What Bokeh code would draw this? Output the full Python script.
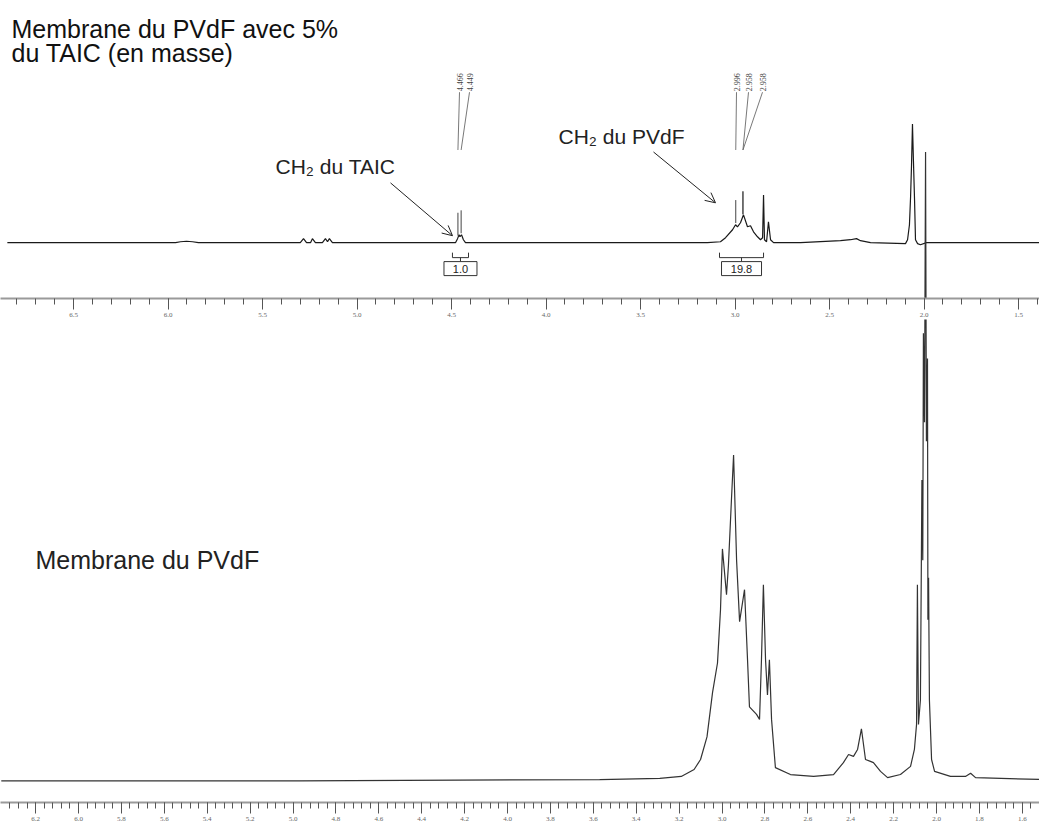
from bokeh.plotting import figure
from bokeh.layouts import column
from bokeh.models import Range1d, FixedTicker, Arrow, OpenHead
from bokeh.core.properties import value
from bokeh.embed import file_html
from bokeh.resources import INLINE
import numpy as np

# ---------------- data ----------------
# Top spectrum: PVdF membrane with 5 % TAIC (ppm, relative intensity)
top_ppm = [6.85, 5.96, 5.934, 5.902, 5.870, 5.839, 5.30, 5.283, 5.267, 5.246, 5.236, 5.220,
           5.183, 5.167, 5.156, 5.146, 5.130, 4.479, 4.468, 4.460, 4.455, 4.447, 4.437, 4.426,
           3.146, 3.077, 3.050, 3.013, 2.997, 2.987, 2.971, 2.955, 2.934, 2.918, 2.902, 2.881,
           2.865, 2.854, 2.849, 2.844, 2.833, 2.823, 2.812, 2.796, 2.653, 2.442, 2.389, 2.357,
           2.336, 2.283, 2.098, 2.087, 2.077, 2.071, 2.066, 2.061, 2.056, 2.050, 2.045, 2.034,
           2.019, 1.987, 1.35]
top_int = [0.0, 0.0, 0.8, 1.2, 0.8, 0.0, 0.0, 3.4, 0.0, 0.0, 3.4, 0.0,
           0.0, 3.4, 0.8, 3.4, 0.0, 0.0, 3.4, 6.7, 5.0, 6.7, 2.5, 0.0,
           0.0, 0.8, 4.2, 10.9, 15.1, 13.4, 16.8, 23.5, 13.4, 14.3, 9.2, 5.0,
           2.5, 4.2, 40.3, 2.5, 0.8, 17.6, 2.5, 0.0, 0.0, 1.7, 2.5, 3.4,
           1.7, 0.0, -0.8, 2.5, 15.1, 38.7, 65.5, 100.0, 69.7, 36.1, 2.5, -0.8,
           -1.7, 0.0, 0.0]

# Bottom spectrum: PVdF membrane (ppm, relative intensity)
bot_ppm = [6.36, 4.97, 3.57, 3.29, 3.19, 3.13, 3.10, 3.07, 3.044, 3.021, 3.007, 2.998,
           2.979, 2.970, 2.956, 2.946, 2.932, 2.918, 2.895, 2.881, 2.872, 2.839, 2.825, 2.816,
           2.807, 2.797, 2.788, 2.779, 2.769, 2.751, 2.681, 2.573, 2.480, 2.434, 2.410, 2.387,
           2.368, 2.350, 2.331, 2.308, 2.294, 2.261, 2.228, 2.168, 2.121, 2.103, 2.093, 2.089,
           2.084, 2.075, 2.068, 2.064, 2.061, 2.056, 2.051, 2.047, 2.042, 2.040, 2.037, 2.033,
           2.023, 2.009, 1.935, 1.865, 1.841, 1.818, 1.50]
bot_int = [-0.2, -0.2, 0.0, 0.2, 0.5, 1.6, 3.2, 6.8, 13.9, 18.6, 27.1, 36.8,
           29.5, 34.2, 44.6, 51.8, 35.0, 25.2, 30.3, 19.1, 11.6, 10.4, 9.6, 19.1,
           31.1, 19.1, 13.5, 19.1, 9.6, 1.9, 0.8, 0.5, 0.8, 2.7, 4.0, 3.7,
           4.8, 8.1, 3.2, 2.9, 2.7, 1.3, 0.3, 0.8, 2.1, 4.8, 8.8, 31.1,
           8.8, 12.7, 47.8, 35.0, 71.2, 57.0, 100.0, 54.0, 67.2, 25.5, 32.2, 12.7,
           3.2, 1.3, 0.5, 0.5, 1.0, 0.3, 0.0]

peak_labels = ["4.466", "4.449", "2.996", "2.958", "2.958"]
peak_ppm = [4.466, 4.449, 2.996, 2.958, 2.958]

integral_start = [4.495, 3.082]
integral_end = [4.410, 2.849]
integral_values = ["1.0", "19.8"]

top_major_ticks = [6.5, 6.0, 5.5, 5.0, 4.5, 4.0, 3.5, 3.0, 2.5, 2.0, 1.5]
top_tick_labels = ["6.5", "6.0", "5.5", "5.0", "4.5", "4.0", "3.5", "3.0", "2.5", "2.0", "1.5"]
bot_major_ticks = [6.2, 6.0, 5.8, 5.6, 5.4, 5.2, 5.0, 4.8, 4.6, 4.4, 4.2, 4.0, 3.8, 3.6,
                   3.4, 3.2, 3.0, 2.8, 2.6, 2.4, 2.2, 2.0, 1.8, 1.6]
bot_tick_labels = ["6.2", "6.0", "5.8", "5.6", "5.4", "5.2", "5.0", "4.8", "4.6", "4.4",
                   "4.2", "4.0", "3.8", "3.6", "3.4", "3.2", "3.0", "2.8", "2.6", "2.4",
                   "2.2", "2.0", "1.8", "1.6"]

# ---------------- layout geometry (page pixels, page origin at 0,0) ----------------
W = 1039
AXIS_H = 20            # height Bokeh gives to the x axis area
TOP_FRAME_BOTTOM = 299
BOT_FRAME_BOTTOM = 803
TOP_H = TOP_FRAME_BOTTOM + AXIS_H
BOT_H = BOT_FRAME_BOTTOM + AXIS_H - TOP_H
FONT = value("Liberation Sans")


def tx(px):  # page x -> top ppm
    return 2.0 + (923.5 - px) / 189.0


def ty(py):  # page y -> top intensity
    return (243.0 - py) / 1.19


def bx(px):  # page x -> bottom ppm
    return 2.0 + (936.0 - px) / 214.5


def by(py):  # page y -> bottom intensity
    return (780.0 - py) / 6.28


def style_axis(p, major, labels, minor):
    ax = p.xaxis[0]
    ax.ticker = FixedTicker(ticks=major, minor_ticks=minor)
    ax.major_label_overrides = {t: l for t, l in zip(major, labels)}
    ax.axis_line_color = "#9a9a9a"
    ax.axis_line_width = 2
    ax.major_tick_line_color = "#555555"
    ax.minor_tick_line_color = "#555555"
    ax.major_tick_out = 11
    ax.major_tick_in = 0
    ax.minor_tick_out = 6
    ax.minor_tick_in = 0
    ax.major_label_standoff = 3
    ax.major_label_text_font = "Liberation Serif"
    ax.major_label_text_font_size = "7px"
    ax.major_label_text_color = "#666666"


# ---------------- top figure ----------------
top = figure(width=W, height=TOP_H, output_backend="svg", toolbar_location=None,
             x_range=Range1d(tx(0), tx(W)), y_range=Range1d(ty(TOP_FRAME_BOTTOM), ty(0)),
             y_axis_location=None, min_border=0, outline_line_color=None)
top.xgrid.visible = False
top.ygrid.visible = False
top.extra_x_ranges = {"bot": Range1d(bx(0), bx(W))}
top.extra_y_ranges = {"boty": Range1d(by(TOP_FRAME_BOTTOM), by(0))}
style_axis(top, top_major_ticks, top_tick_labels, list(np.round(np.arange(6.8, 1.35, -0.1), 2)))

top.line(top_ppm, top_int, line_color="#1a1a1a", line_width=1.2)
# tall solvent line of the lower spectrum that rises into the upper panel
top.line(bot_ppm, bot_int, line_color="#333333", line_width=1.2,
         x_range_name="bot", y_range_name="boty")

# peak picking labels
pk_top = [float(np.interp(-p, [-v for v in top_ppm], top_int)) for p in peak_ppm]
label_px = [459, 469, 736, 748, 762]
label_x = [tx(v) for v in label_px]
top.multi_line([[lx, p] for lx, p in zip(label_x, peak_ppm)],
               [[ty(92), ty(150)] for _ in peak_ppm], line_color="#555555", line_width=0.8)
top.multi_line([[p, p] for p in peak_ppm],
               [[h + 2 / 1.19, h + 25 / 1.19] for h in pk_top], line_color="#444444", line_width=1)
top.text(label_x, [ty(91)] * len(label_x), text=peak_labels, angle=np.pi / 2,
         text_align="left", text_baseline="middle", text_font=value("Liberation Serif"),
         text_font_size="8px", text_color="#444444")

# integrals
for s, e, v, wbox in zip(integral_start, integral_end, integral_values, [33, 40]):
    mid = (s + e) / 2
    top.line([s, s, e, e], [ty(253), ty(258), ty(258), ty(253)], line_color="#333333", line_width=1)
    top.line([mid, mid], [ty(258), ty(262)], line_color="#333333", line_width=1)
    top.rect([mid], [ty(269)], width=wbox, height=14, width_units="screen", height_units="screen",
             fill_color="white", line_color="#333333", line_width=1)
    top.text([mid], [ty(269)], text=[v], text_align="center", text_baseline="middle",
             text_font=FONT, text_font_size="11px", text_color="#222222")

# texts
top.text([tx(11)], [ty(29)], text=["Membrane du PVdF avec 5%"], text_font=FONT,
         text_font_size="25px", text_color="#111111", text_baseline="alphabetic")
top.text([tx(11)], [ty(53)], text=["du TAIC (en masse)"], text_font=FONT,
         text_font_size="25px", text_color="#111111", text_baseline="alphabetic")
top.text([tx(275)], [ty(167)], text=["CH₂ du TAIC"], text_font=FONT,
         text_font_size="21px", text_color="#222222", text_baseline="alphabetic")
top.text([tx(558)], [ty(136)], text=["CH₂ du PVdF"], text_font=FONT,
         text_font_size="21px", text_color="#222222", text_baseline="alphabetic")

top.add_layout(Arrow(end=OpenHead(size=10, line_width=1, line_color="#222222"),
                     x_start=tx(390), y_start=ty(183), x_end=tx(452), y_end=ty(236),
                     line_color="#222222", line_width=1))
top.add_layout(Arrow(end=OpenHead(size=10, line_width=1, line_color="#222222"),
                     x_start=tx(653), y_start=ty(152), x_end=tx(715), y_end=ty(203),
                     line_color="#222222", line_width=1))

# ---------------- bottom figure ----------------
bot = figure(width=W, height=BOT_H, output_backend="svg", toolbar_location=None,
             x_range=Range1d(bx(0), bx(W)), y_range=Range1d(by(BOT_FRAME_BOTTOM), by(TOP_H)),
             y_axis_location=None, min_border=0, outline_line_color=None)
bot.xgrid.visible = False
bot.ygrid.visible = False
style_axis(bot, bot_major_ticks, bot_tick_labels, list(np.round(np.arange(6.32, 1.50, -0.04), 2)))

bot.line(bot_ppm, bot_int, line_color="#333333", line_width=1.2)
bot.text([bx(35)], [by(560)], text=["Membrane du PVdF"], text_font=FONT,
         text_font_size="25px", text_color="#222222", text_baseline="alphabetic")

layout = column(top, bot, spacing=0)
open("out.html", "w").write(file_html(layout, INLINE))
